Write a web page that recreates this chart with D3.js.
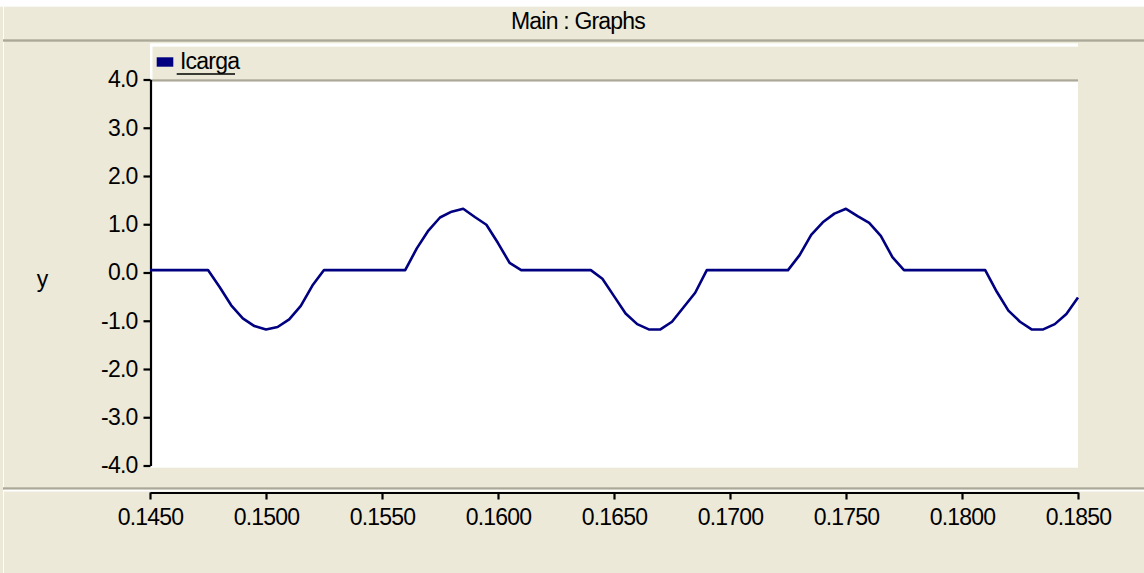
<!DOCTYPE html>
<html>
<head>
<meta charset="utf-8">
<script src="https://cdn.jsdelivr.net/npm/d3@7"></script>
<style>
  html, body { margin: 0; padding: 0; background: #ECE9D8; }
  svg { display: block; }
  text { font-family: "Liberation Sans", Arial, sans-serif; font-size: 23px; letter-spacing: -0.8px; fill: #000; }
</style>
</head>
<body>
<svg id="chart" width="1144" height="573"></svg>
<script>
// Load current (Icarga) sampled every 0.5 ms
const times = d3.range(81).map(i => +(0.145 + i * 0.0005).toFixed(4));
const icarga = [
  0.05, 0.05, 0.05, 0.05, 0.05, 0.05, -0.30, -0.68, -0.95, -1.11,
  -1.18, -1.13, -0.97, -0.69, -0.27, 0.05, 0.05, 0.05, 0.05, 0.05,
  0.05, 0.05, 0.05, 0.50, 0.87, 1.14, 1.26, 1.32, 1.15, 0.99,
  0.61, 0.20, 0.05, 0.05, 0.05, 0.05, 0.05, 0.05, 0.05, -0.13,
  -0.49, -0.85, -1.07, -1.18, -1.18, -1.02, -0.72, -0.42, 0.05, 0.05,
  0.05, 0.05, 0.05, 0.05, 0.05, 0.05, 0.36, 0.78, 1.04, 1.22,
  1.32, 1.17, 1.03, 0.76, 0.32, 0.05, 0.05, 0.05, 0.05, 0.05,
  0.05, 0.05, 0.05, -0.40, -0.79, -1.02, -1.18, -1.18, -1.07, -0.86,
  -0.52
];
const seriesName = "Icarga";
const titleText = "Main : Graphs";
const yLabel = "y";
const yTicks = [4, 3, 2, 1, 0, -1, -2, -3, -4];
const xTicks = [0.145, 0.150, 0.155, 0.160, 0.165, 0.170, 0.175, 0.180, 0.185];

const W = 1144, H = 573;
const beige = "#ECE9D8", rule = "#ACA899", navy = "#000080";
const svg = d3.select("#chart");

const plotL = 150, plotR = 1078, plotT = 81.7, plotB = 467.7;
const x = d3.scaleLinear().domain([0.145, 0.185]).range([plotL, plotR]);
const y = d3.scaleLinear().domain([-4, 4]).range([465.5, 79.5]);

// window frame
svg.append("rect").attr("width", W).attr("height", H).attr("fill", beige);
svg.append("rect").attr("width", W).attr("height", 6.7).attr("fill", "#fff");
svg.append("rect").attr("x", 3).attr("y", 6.7).attr("width", 1).attr("height", H).attr("fill", "#fff");
svg.append("rect").attr("x", 3).attr("y", 39.3).attr("width", W).attr("height", 2.4).attr("fill", rule);

svg.append("text").attr("x", 578).attr("y", 29).attr("text-anchor", "middle").text(titleText);

// legend strip
svg.append("rect").attr("x", plotL).attr("y", 43.3).attr("width", plotR - plotL).attr("height", 36).attr("fill", "#fff");
svg.append("rect").attr("x", plotL + 2.5).attr("y", 46.7).attr("width", plotR - plotL - 2.5).attr("height", 32.6).attr("fill", beige);
svg.append("rect").attr("x", plotL).attr("y", 79.3).attr("width", plotR - plotL).attr("height", 2.4).attr("fill", rule);
svg.append("rect").attr("x", 156.7).attr("y", 57.3).attr("width", 16.6).attr("height", 9.4).attr("fill", navy);
svg.append("text").attr("x", 180).attr("y", 69).text(seriesName);
svg.append("line").attr("x1", 176.7).attr("x2", 235).attr("y1", 74).attr("y2", 74)
  .attr("stroke", "#000").attr("stroke-width", 1.5);

// plot area
svg.append("rect").attr("x", plotL).attr("y", plotT).attr("width", plotR - plotL).attr("height", plotB - plotT).attr("fill", "#fff");

// x axis band separators
svg.append("rect").attr("x", 3).attr("y", 487.3).attr("width", W).attr("height", 2.4).attr("fill", rule);
svg.append("rect").attr("x", 4).attr("y", 489.7).attr("width", W).attr("height", 1.8).attr("fill", "#fff");

// y axis
const yAxis = d3.axisLeft(y).tickValues(yTicks).tickFormat(d => d.toFixed(1))
  .tickSize(7).tickSizeOuter(0).tickPadding(6);
const gy = svg.append("g").attr("transform", "translate(150.5,0)").call(yAxis);
gy.select(".domain").attr("stroke", "#000").attr("stroke-width", 2.2);
gy.selectAll(".tick line").attr("stroke", "#000").attr("stroke-width", 2.2);
gy.attr("font-family", null).attr("font-size", null);

svg.append("text").attr("x", 42).attr("y", 287).attr("text-anchor", "middle").text(yLabel);

// x axis
const xAxis = d3.axisBottom(x).tickValues(xTicks).tickFormat(d => d.toFixed(4))
  .tickSize(7).tickSizeOuter(0).tickPadding(9);
const gx = svg.append("g").attr("transform", "translate(0,492.5)").call(xAxis);
gx.select(".domain").attr("stroke", "#000").attr("stroke-width", 2.2);
gx.selectAll(".tick line").attr("stroke", "#000").attr("stroke-width", 2.2);
gx.attr("font-family", null).attr("font-size", null);

// series line
const line = d3.line().x((d, i) => x(times[i])).y(d => y(d));
svg.append("path").datum(icarga).attr("d", line)
  .attr("fill", "none").attr("stroke", navy).attr("stroke-width", 2.6)
  .attr("stroke-linejoin", "round");
</script>
</body>
</html>
